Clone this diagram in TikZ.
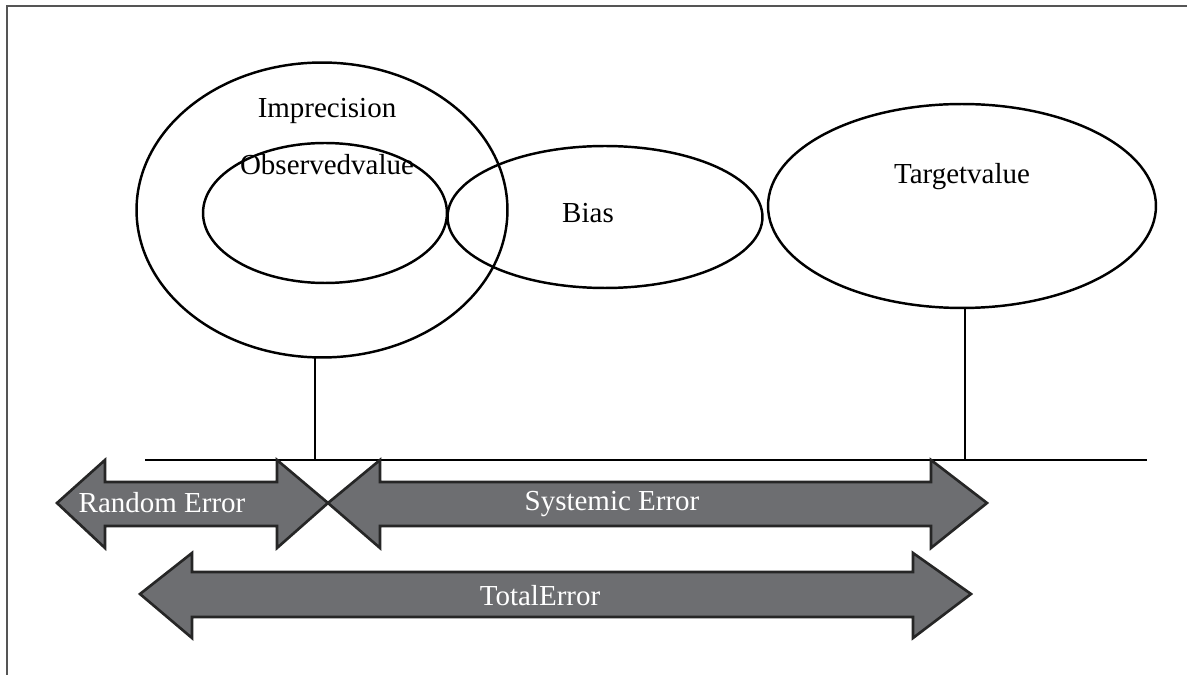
\documentclass[tikz,border=0pt]{standalone}
\usepackage{fontspec}
\setmainfont{Liberation Serif}
\usetikzlibrary{calc,shapes.geometric,positioning}
\definecolor{arrowgrey}{RGB}{109,110,113}
\definecolor{framegrey}{RGB}{85,85,85}

\begin{document}
\begin{tikzpicture}[x=0.02cm,y=-0.02cm,line width=1.4pt,line join=miter]

\tikzset{blob/.style={shape=ellipse,draw,inner sep=0pt},
label/.style={font=\fontsize{16.5}{20}\selectfont,inner sep=0pt,anchor=base},
bigarrow/.style={fill=arrowgrey,draw=black!85,line width=1.5pt},
arrowtext/.style={label,text=white}}

\useasboundingbox (0,0) rectangle (1187,675);

% Frame
\draw[framegrey,line width=1pt] (7,680) -- (7,6) -- (1195,6);

% Ellipses
\node[blob,minimum width=7.42cm,minimum height=5.9cm] (imprec) at (322,210) {};
\node[blob,minimum width=4.88cm,minimum height=2.8cm] (observed) at (325,213) {};
\node[blob,minimum width=6.3cm,minimum height=2.84cm] (bias) at (605,217) {};
\node[blob,minimum width=7.76cm,minimum height=4.08cm] (target) at (962,206) {};

% Labels
\node[label] (imprecText) at (327,118) {Imprecision};
\node[label] (observedText) at (327,175) {Observedvalue};
\node[label] (biasText) at (588,223) {Bias};
\node[label] (targetText) at (962,184) {Targetvalue};

% Axis
\coordinate (axisL) at (145,460);
\coordinate (axisR) at (1147,460);
\coordinate (imprecFoot) at (315,357);
\coordinate (targetFoot) at (965,308);
\draw (axisL) -- (axisR);
\draw (imprecFoot) -- (imprecFoot |- axisL);
\draw (targetFoot) -- (targetFoot |- axisL);

% Error arrows
\draw[bigarrow] (57,503) -- (105,460) -- (105,482) -- (277,482) -- (277,460) -- (328,503)
  -- (277,548) -- (277,526) -- (105,526) -- (105,548) -- cycle;
\draw[bigarrow] (328,503) -- (380,460) -- (380,482) -- (931,482) -- (931,460) -- (987,503)
  -- (931,548) -- (931,526) -- (380,526) -- (380,548) -- cycle;
\draw[bigarrow] (140,594) -- (192,553) -- (192,572) -- (913,572) -- (913,553) -- (971,594)
  -- (913,638) -- (913,617) -- (192,617) -- (192,638) -- cycle;

\node[arrowtext] (randomText) at (162,512) {Random Error};
\node[arrowtext] (systemicText) at (612,510) {Systemic Error};
\node[arrowtext] (totalText) at (540,605) {TotalError};

\end{tikzpicture}
\end{document}
